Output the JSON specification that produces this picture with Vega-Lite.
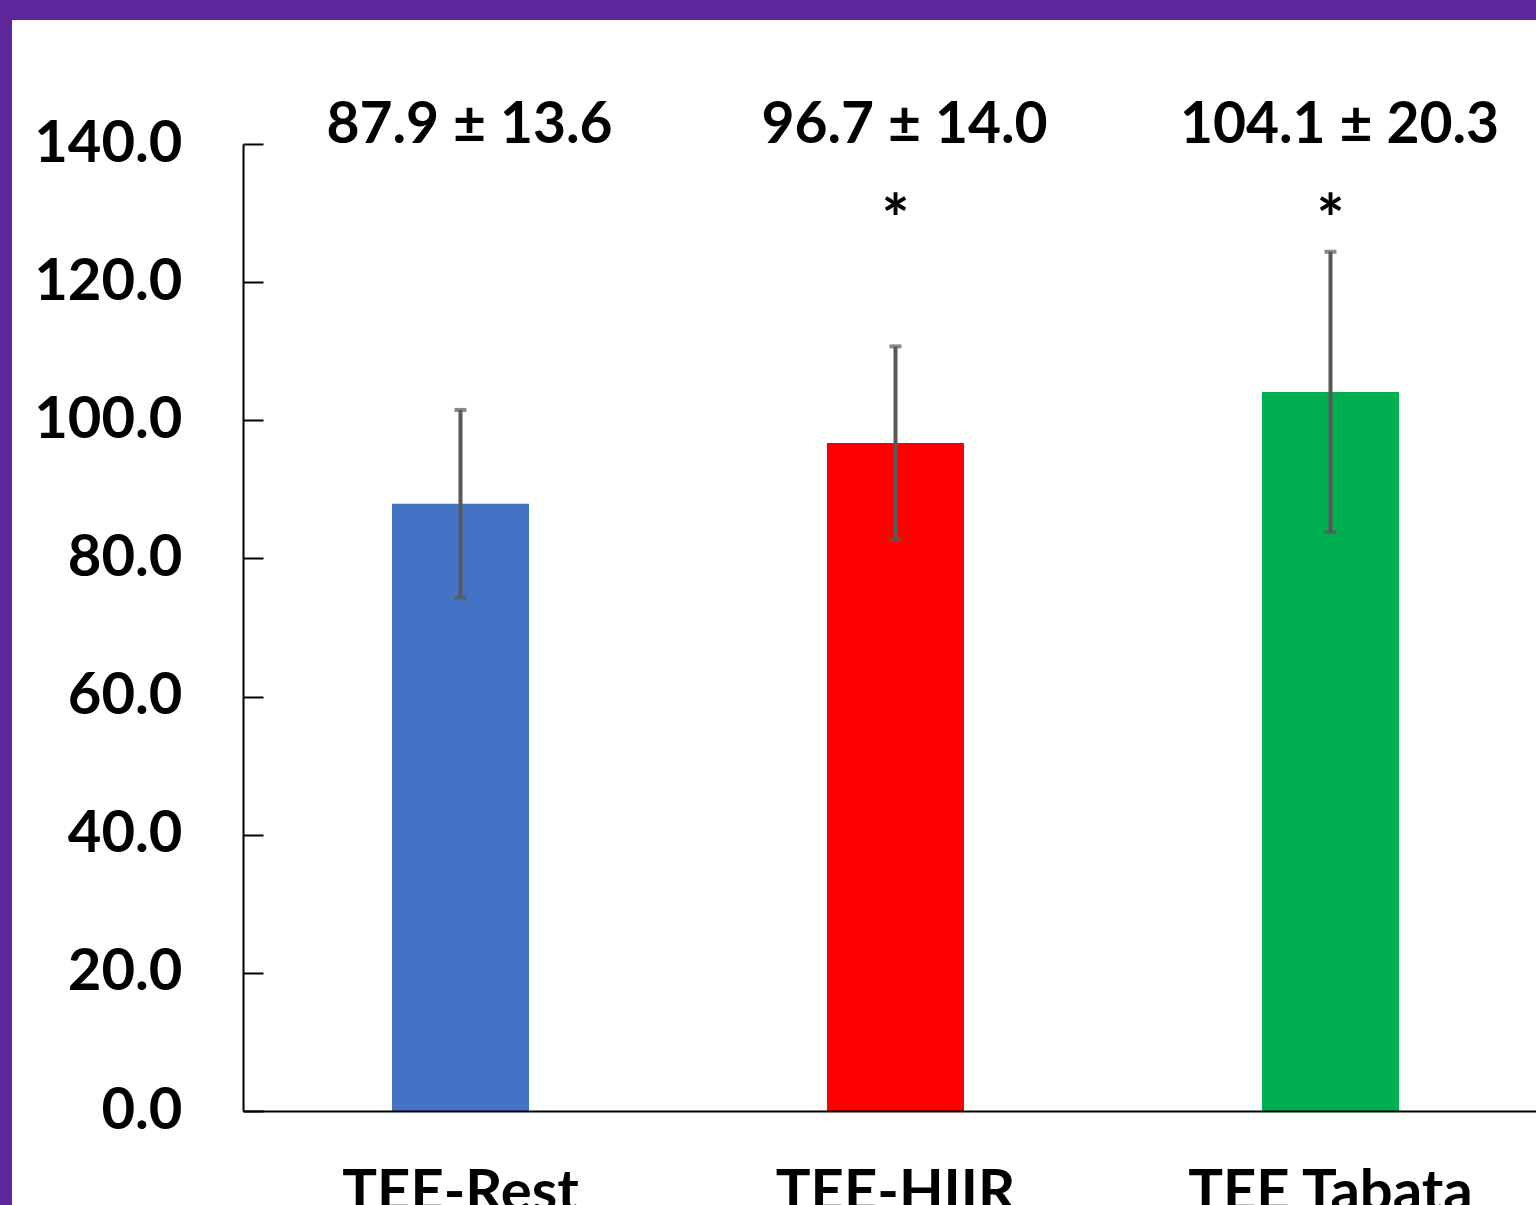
{
  "$schema": "https://vega.github.io/schema/vega-lite/v6.json",
  "width": 1305,
  "height": 967,
  "autosize": "none",
  "padding": {"left": 243, "top": 144, "right": 0, "bottom": 94},
  "background": "#5D279B",
  "config": {
    "view": {"stroke": null},
    "axis": {"zindex": 1},
    "font": "Lato"
  },
  "resolve": {"scale": {"x": "independent"}},
  "layer": [
    {
      "data": {"values": [{}]},
      "mark": {"type": "rect", "color": "white", "clip": false},
      "encoding": {
        "x": {"datum": -0.177, "type": "quantitative", "scale": {"domain": [0, 1]}, "axis": null},
        "x2": {"datum": 1.3},
        "y": {"datum": 157.95, "type": "quantitative", "scale": {"domain": [0, 140], "nice": false}},
        "y2": {"datum": -30}
      }
    },
    {
      "data": {
        "values": [
          {"group": "TEE-Rest", "mean": 87.9, "lo": 74.3, "hi": 101.5, "label": "87.9 ± 13.6", "star": ""},
          {"group": "TEE-HIIR", "mean": 96.7, "lo": 82.7, "hi": 110.7, "label": "96.7 ± 14.0", "star": "*"},
          {"group": "TEE Tabata", "mean": 104.1, "lo": 83.8, "hi": 124.4, "label": "104.1 ± 20.3", "star": "*"}
        ]
      },
      "encoding": {
        "x": {
          "field": "group", "type": "nominal", "sort": null,
          "scale": {"paddingInner": 0.685, "paddingOuter": 0.3425},
          "axis": {
            "title": null, "ticks": false, "labelAngle": 0, "labelLimit": 0,
            "domainColor": "black", "domainWidth": 2,
            "labelFont": "Lato", "labelFontWeight": "bold", "labelFontSize": 58,
            "labelColor": "black", "labelPadding": 53, "zindex": 1
          }
        }
      },
      "layer": [
        {
          "mark": {"type": "bar"},
          "encoding": {
            "y": {
              "field": "mean", "type": "quantitative",
              "scale": {"domain": [0, 140], "nice": false},
              "axis": {
                "title": null, "values": [0, 20, 40, 60, 80, 100, 120, 140], "format": ".1f",
                "grid": false, "domainColor": "black", "domainWidth": 2,
                "tickColor": "black", "tickWidth": 2, "tickSize": -20,
                "labelFont": "Lato", "labelFontWeight": "bold", "labelFontSize": 58,
                "labelColor": "black", "labelPadding": 81, "zindex": 1
              }
            },
            "color": {
              "field": "group", "type": "nominal", "sort": null, "legend": null,
              "scale": {"domain": ["TEE-Rest", "TEE-HIIR", "TEE Tabata"], "range": ["#4472C4", "#FF0000", "#00B050"]}
            }
          }
        },
        {
          "mark": {"type": "rule", "color": "#595959", "strokeWidth": 4},
          "encoding": {
            "y": {"field": "lo", "type": "quantitative"},
            "y2": {"field": "hi"}
          }
        },
        {
          "mark": {"type": "tick", "orient": "horizontal", "color": "#595959", "size": 12, "thickness": 4},
          "encoding": {"y": {"field": "lo", "type": "quantitative"}}
        },
        {
          "mark": {"type": "tick", "orient": "horizontal", "color": "#595959", "size": 12, "thickness": 4},
          "encoding": {"y": {"field": "hi", "type": "quantitative"}}
        },
        {
          "mark": {"type": "text", "font": "Lato", "fontWeight": "bold", "fontSize": 57, "baseline": "alphabetic", "color": "black", "clip": false, "dx": 9},
          "encoding": {
            "y": {"datum": 140.15, "type": "quantitative"},
            "text": {"field": "label"}
          }
        },
        {
          "mark": {"type": "text", "font": "Lato", "fontWeight": "bold", "fontSize": 66, "baseline": "alphabetic", "color": "black"},
          "encoding": {
            "y": {"datum": 125.6, "type": "quantitative"},
            "text": {"field": "star"}
          }
        }
      ]
    }
  ]
}
